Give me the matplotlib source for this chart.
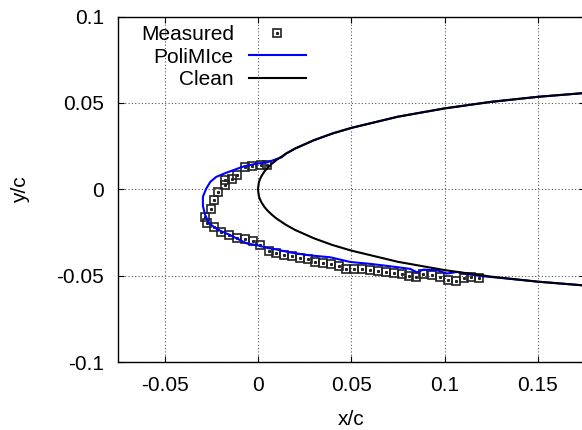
import matplotlib
matplotlib.use("Agg")
import matplotlib.pyplot as plt
from matplotlib.lines import Line2D

plt.rcParams['font.family'] = ['Liberation Sans', 'DejaVu Sans']

# Measured ice shape
measured_x = [0.0048, 0.0016, -0.0030, -0.0071, -0.0111, -0.0139, -0.0175, -0.0179,
              -0.0216, -0.0236, -0.0252, -0.0284, -0.0271, -0.0238, -0.0198, -0.0155,
              -0.0113, -0.0070, -0.0029, 0.0013, 0.0057, 0.0098, 0.0139, 0.0182,
              0.0223, 0.0266, 0.0305, 0.0346, 0.0389, 0.0432, 0.0473, 0.0516,
              0.0559, 0.0602, 0.0645, 0.0686, 0.0729, 0.0770, 0.0807, 0.0847,
              0.0886, 0.0932, 0.0977, 0.1016, 0.1061, 0.1102, 0.1143, 0.1182]
measured_y = [0.0142, 0.0140, 0.0136, 0.0130, 0.0085, 0.0062, 0.0056, 0.0023,
              -0.0016, -0.0064, -0.0112, -0.0159, -0.0198, -0.0221, -0.0248, -0.0267,
              -0.0281, -0.0289, -0.0299, -0.0322, -0.0360, -0.0370, -0.0378, -0.0388,
              -0.0396, -0.0406, -0.0423, -0.0428, -0.0432, -0.0444, -0.0461, -0.0461,
              -0.0463, -0.0467, -0.0473, -0.0478, -0.0484, -0.0492, -0.0500, -0.0508,
              -0.0488, -0.0494, -0.0510, -0.0527, -0.0529, -0.0513, -0.0510, -0.0512]

# PoliMIce predicted ice shape
polimice_x = [0.2, 0.175, 0.15, 0.125, 0.1, 0.075, 0.05, 0.04, 0.03, 0.02, 0.015, 0.0129,
              0.0048, -0.0005,
              -0.0077, -0.0166, -0.0223, -0.0255, -0.0277, -0.0295, -0.0295, -0.0282,
              -0.0264, -0.0238, -0.0202, -0.0148, -0.0095, -0.0059, -0.0005, 0.0048,
              0.0102, 0.0173, 0.0280, 0.0388, 0.0495, 0.0602, 0.0709, 0.0816,
              0.0852, 0.0888, 0.0959, 0.1013, 0.1066, 0.1138, 0.1209, 0.1316,
              0.15, 0.175, 0.2]
polimice_y = [0.0574, 0.0557, 0.0535, 0.0506, 0.0468, 0.0420, 0.0355, 0.0323, 0.0284,
              0.0236, 0.0206, 0.0186, 0.0155, 0.0149,
              0.0132, 0.0097, 0.0072, 0.0043, 0.0004, -0.0043, -0.0097, -0.0151,
              -0.0194, -0.0217, -0.0240, -0.0266, -0.0295, -0.0314, -0.0324, -0.0339,
              -0.0349, -0.0366, -0.0383, -0.0394, -0.0421, -0.0432, -0.0446, -0.0461,
              -0.0481, -0.0465, -0.0469, -0.0488, -0.0479, -0.0494, -0.0504, -0.0515,
              -0.0535, -0.0557, -0.0574]

# Clean airfoil contour
clean_x = [0.2, 0.175, 0.15, 0.125, 0.1, 0.075, 0.05, 0.04, 0.03, 0.02, 0.015, 0.01,
           0.0075, 0.005, 0.0035, 0.002, 0.001, 0.0005, 0.0,
           0.0005, 0.001, 0.002, 0.0035, 0.005, 0.0075, 0.01, 0.015, 0.02, 0.03,
           0.04, 0.05, 0.075, 0.1, 0.125, 0.15, 0.175, 0.2]
clean_y = [0.0574, 0.0557, 0.0535, 0.0506, 0.0468, 0.0420, 0.0355, 0.0323, 0.0284,
           0.0236, 0.0206, 0.0170, 0.0148, 0.0122, 0.0103, 0.0078, 0.0056, 0.0039, 0.0,
           -0.0039, -0.0056, -0.0078, -0.0103, -0.0122, -0.0148, -0.0170, -0.0206,
           -0.0236, -0.0284, -0.0323, -0.0355, -0.0420, -0.0468, -0.0506, -0.0535,
           -0.0557, -0.0574]

x_ticks = [-0.05, 0, 0.05, 0.1, 0.15]
y_ticks = [-0.1, -0.05, 0, 0.05, 0.1]

fig = plt.figure(figsize=(5.82, 4.30), dpi=100)
ax = fig.add_axes([118 / 582, 1 - 362 / 430, 466.5 / 582, 345.5 / 430])

ax.plot(measured_x, measured_y, linestyle='none', marker='s', markersize=5.8,
        markerfacecolor='none', markeredgecolor='#222222', markeredgewidth=1.2, zorder=3)
ax.plot(measured_x, measured_y, linestyle='none', marker='s', markersize=1.2,
        color='#222222', zorder=3)
ax.plot(polimice_x, polimice_y, color='#0000ff', linewidth=1.5, zorder=4)
ax.plot(clean_x, clean_y, color='black', linewidth=1.5, zorder=5)

ax.set_xlim(-0.075, 0.175)
ax.set_ylim(-0.1, 0.1)
ax.set_xticks(x_ticks)
ax.set_yticks(y_ticks)
ax.set_xticklabels(['-0.05', '0', '0.05', '0.1', '0.15'])
ax.set_yticklabels(['-0.1', '-0.05', '0', '0.05', '0.1'])
ax.tick_params(direction='in', length=4.5, width=0.8, top=True, right=True,
               labelsize=15, pad=10)
ax.grid(True, color='#555555', linestyle=(0, (1, 2)), linewidth=0.8)
for s in ax.spines.values():
    s.set_linewidth(1.0)

ax.set_xlabel('x/c', fontsize=15)
ax.set_ylabel('y/c', fontsize=15)
ax.xaxis.set_label_coords((351 - 118) / 466.5, -(410 - 362) / 345.5)
ax.yaxis.set_label_coords(-(118 - 30) / 466.5, 0.5)

h_meas = (Line2D([], [], linestyle='none', marker='s', markersize=5.8, markerfacecolor='none',
                 markeredgecolor='#222222', markeredgewidth=1.2),
          Line2D([], [], linestyle='none', marker='s', markersize=1.2, color='#222222'))
h_poli = Line2D([], [], color='#0000ff', linewidth=1.5)
h_clean = Line2D([], [], color='black', linewidth=1.5)
leg = ax.legend([h_meas, h_poli, h_clean], ['Measured', 'PoliMIce', 'Clean'],
                loc='upper left', bbox_to_anchor=(0.049, 0.975), frameon=False,
                markerfirst=False, fontsize=15, handlelength=2.74, handletextpad=0.72,
                labelspacing=0.17, borderpad=0, borderaxespad=0)

fig.savefig('out.png', dpi=100)
